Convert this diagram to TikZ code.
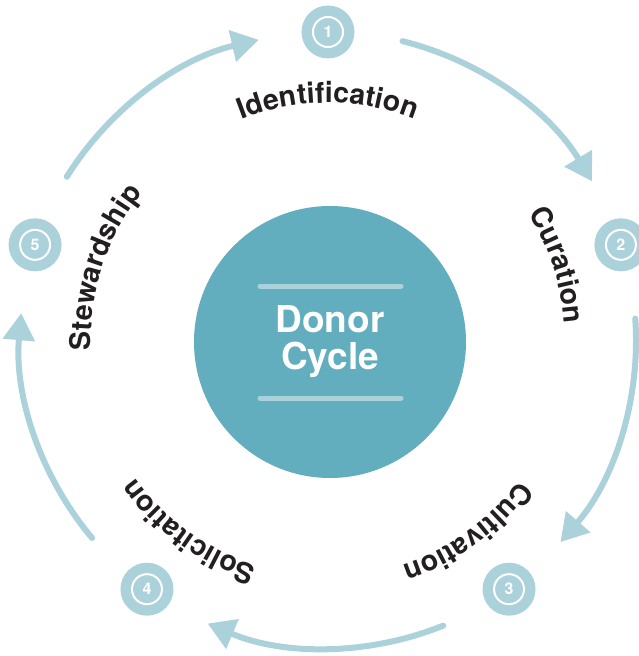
\documentclass[tikz,border=0pt]{standalone}
\usepackage{fontspec}
\setmainfont{TeX Gyre Heros}
\usetikzlibrary{arrows.meta,decorations.text}
\definecolor{ringblue}{RGB}{171,209,219}
\definecolor{hubteal}{RGB}{98,174,190}
\definecolor{inkblack}{RGB}{35,31,32}
\newcommand\labfont{\fontsize{28.5}{28.5}\selectfont\bfseries\color{inkblack}}
\tikzset{
x=1pt, y=1pt,
hub/.style={circle, fill=hubteal, minimum size=272pt, inner sep=0pt, text=white,
  align=center, font=\fontsize{37}{37}\selectfont\bfseries},
rule/.style={draw=ringblue, line width=5pt, line cap=round},
numdot/.style={circle, fill=ringblue, minimum size=53pt, inner sep=0pt},
numring/.style={circle, draw=white, line width=2pt, minimum size=30pt, inner sep=0pt,
  text=white, font=\fontsize{16}{16}\selectfont\bfseries},
flow/.style={draw=ringblue, line width=6pt, line cap=round, -{Triangle[length=27pt,width=31pt]}},
steplabel/.style={decorate, decoration={text along path, text align=center, text={|\labfont|#1}}},
}

\begin{document}
\begin{tikzpicture}
    \useasboundingbox (-328,-316) rectangle (310,340);
    \node[hub] (hub) at (2,-2) {Donor\\Cycle};
    \coordinate (ruleTL) at (-68,54);
    \coordinate (ruleTR) at (73,54);
    \coordinate (ruleBL) at (-68,-58);
    \coordinate (ruleBR) at (73,-58);
    \draw[rule] (ruleTL) -- (ruleTR);
    \draw[rule] (ruleBL) -- (ruleBR);

    \foreach \k/\ang in {1/90, 2/18, 3/-54, 4/-126, 5/162} {
        \node[numdot] (dot\k) at (\ang:308) {};
        \node[numring] (num\k) at (dot\k) {\k};
        \coordinate (flow\k) at (\ang-14:308);
        \draw[flow] (flow\k) arc[start angle=\ang-14, end angle=\ang-59, radius=308];
    }

    \path[steplabel=Identification] (135:237) arc[start angle=135, end angle=45, radius=237];
    \path[steplabel=Curation] (63:237) arc[start angle=63, end angle=-27, radius=237];
    \path[steplabel=Cultivation] (-9:237) arc[start angle=-9, end angle=-99, radius=237];
    \path[steplabel=Solicitation] (-81:237) arc[start angle=-81, end angle=-171, radius=237];
    \path[steplabel=Stewardship] (207:237) arc[start angle=207, end angle=117, radius=237];
\end{tikzpicture}
\end{document}
